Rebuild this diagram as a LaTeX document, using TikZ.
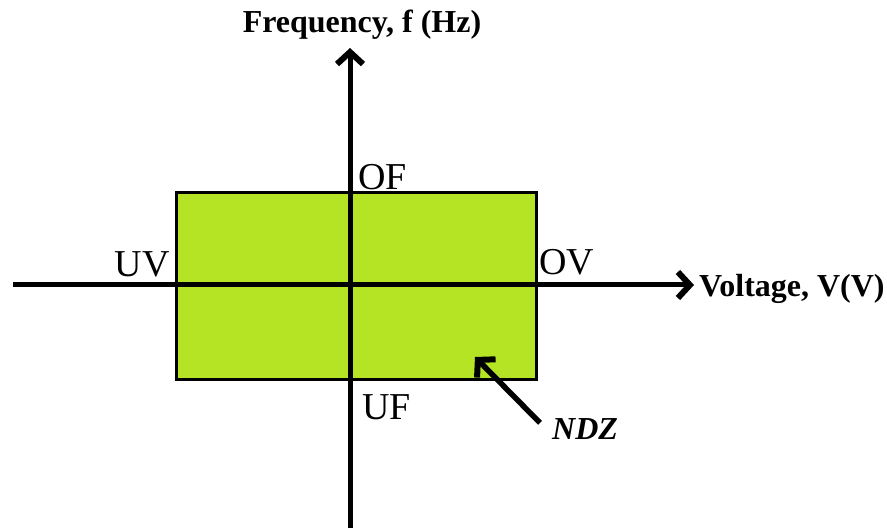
\documentclass[tikz,border=0pt]{standalone}
\usepackage{fontspec}
\setmainfont{Liberation Serif}
\usetikzlibrary{positioning,arrows.meta}

\definecolor{ndzgreen}{RGB}{181,228,36}

\begin{document}
\begin{tikzpicture}[
  x=1pt,y=1pt,
  >={Straight Barb[length=12pt,width=26pt,line width=6pt]},
  axis/.style    ={->,line width=5pt},
  zone/.style    ={draw,line width=3pt,fill=ndzgreen},
  limit/.style   ={font=\fontsize{38}{38}\selectfont,inner sep=0pt},
  axlabel/.style ={font=\fontsize{32}{32}\selectfont\bfseries,inner sep=0pt},
  pointer/.style ={->,line width=5.5pt}]

\useasboundingbox (0,0) rectangle (887,528);

% --- non-detection zone ---
\node[zone,minimum width=360,minimum height=187,inner sep=0pt,anchor=south west]
  (ndzbox) at (175,147) {};

% --- axes ---
\coordinate (xstart) at (13,243);
\coordinate (xend)   at (694,243);
\coordinate (ystart) at (350,0);
\coordinate (yend)   at (350,480);
\draw[axis] (xstart) -- (xend);
\draw[axis] (ystart) -- (yend);

\node[axlabel,anchor=west] (vlabel) at (699,239) {Voltage, V(V)};
\node[axlabel,anchor=base] (flabel) at (362,495) {Frequency, f (Hz)};

% --- limits ---
\node[limit,anchor=base west] (of) at (358,338) {OF};
\node[limit,anchor=base east] (uv) at (170,251) {UV};
\node[limit,anchor=base west] (ov) at (539,253) {OV};
\node[limit,anchor=base west] (uf) at (362,108) {UF};

% --- label of the zone ---
\node[font=\fontsize{32}{32}\selectfont\bfseries\itshape,inner sep=0pt,anchor=base west]
  (ndz) at (552,88) {NDZ};
\coordinate (ndztip) at (475,171);
\draw[pointer] ([xshift=-12pt,yshift=-4pt]ndz.north west) -- (ndztip);

\end{tikzpicture}
\end{document}
